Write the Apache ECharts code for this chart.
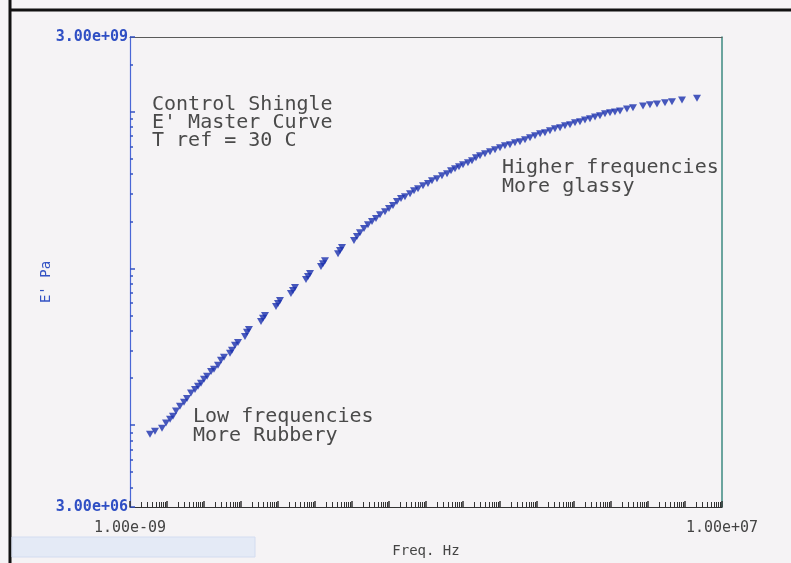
<!DOCTYPE html>
<html>
<head>
<meta charset="utf-8">
<title>Control Shingle E' Master Curve</title>
<script src="https://cdn.jsdelivr.net/npm/echarts@6/dist/echarts.min.js"></script>
<style>
    html, body { margin: 0; padding: 0; background: #f5f3f5; }
    #chart { width: 791px; height: 563px; }
</style>
</head>
<body>
<div id="chart"></div>
<script>
// values (Hz, Pa)
const freqHz = [
    3.47e-9, 4.74e-9, 7.33e-9, 9.40e-9, 1.21e-8, 1.45e-8, 1.75e-8, 2.24e-8, 2.88e-8, 3.47e-8,
    4.45e-8, 5.71e-8, 6.88e-8, 8.30e-8, 1.00e-7, 1.21e-7, 1.55e-7, 1.86e-7, 2.39e-7, 2.88e-7,
    3.47e-7, 5.04e-7, 5.71e-7, 6.88e-7, 8.30e-7, 1.28e-6, 1.45e-6, 1.64e-6, 3.47e-6, 3.93e-6,
    4.45e-6, 8.83e-6, 1.00e-5, 1.13e-5, 2.24e-5, 2.54e-5, 2.88e-5, 5.71e-5, 6.47e-5, 7.33e-5,
    1.45e-4, 1.64e-4, 1.86e-4, 4.19e-4, 4.74e-4, 5.37e-4, 1.13e-3, 1.36e-3, 1.64e-3, 2.11e-3,
    2.70e-3, 3.47e-3, 4.45e-3, 5.71e-3, 7.80e-3, 1.00e-2, 1.28e-2, 1.64e-2, 2.11e-2, 2.70e-2,
    3.70e-2, 4.74e-2, 6.08e-2, 8.30e-2, 0.113, 0.145, 0.198, 0.270, 0.370, 0.474,
    0.608, 0.780, 1.00, 1.36, 1.75, 2.24, 2.88, 3.93, 5.37, 7.33,
    10.0, 13.6, 18.6, 25.4, 34.7, 47.4, 64.7, 88.3, 121, 164,
    224, 306, 419, 571, 780, 1064, 1450, 1980, 2700, 3700,
    5040, 6880, 9400, 12800, 17500, 27000, 39300, 73300, 1.13e5, 1.75e5,
    2.88e5, 4.45e5, 8.30e5, 2.11e6
];
const storageModulus = [
    8.75e6, 9.15e6, 9.55e6, 1.03e7, 1.09e7, 1.14e7, 1.23e7, 1.32e7, 1.40e7, 1.48e7,
    1.60e7, 1.69e7, 1.77e7, 1.85e7, 1.96e7, 2.05e7, 2.20e7, 2.27e7, 2.41e7, 2.59e7,
    2.71e7, 2.87e7, 3.00e7, 3.23e7, 3.37e7, 3.68e7, 3.91e7, 4.08e7, 4.59e7, 4.80e7,
    5.01e7, 5.72e7, 5.97e7, 6.24e7, 6.92e7, 7.23e7, 7.56e7, 8.50e7, 8.88e7, 9.28e7,
    1.03e8, 1.07e8, 1.12e8, 1.24e8, 1.30e8, 1.36e8, 1.51e8, 1.60e8, 1.69e8, 1.80e8,
    1.90e8, 1.99e8, 2.08e8, 2.20e8, 2.30e8, 2.41e8, 2.52e8, 2.67e8, 2.79e8, 2.87e8,
    3.00e8, 3.13e8, 3.23e8, 3.37e8, 3.48e8, 3.63e8, 3.74e8, 3.91e8, 4.02e8, 4.20e8,
    4.33e8, 4.46e8, 4.59e8, 4.72e8, 4.87e8, 5.08e8, 5.24e8, 5.40e8, 5.56e8, 5.72e8,
    5.89e8, 6.07e8, 6.15e8, 6.34e8, 6.43e8, 6.62e8, 6.82e8, 7.02e8, 7.23e8, 7.34e8,
    7.56e8, 7.78e8, 7.89e8, 8.13e8, 8.25e8, 8.50e8, 8.63e8, 8.87e8, 9.01e8, 9.27e8,
    9.42e8, 9.70e8, 9.84e8, 9.98e8, 1.01e9, 1.04e9, 1.06e9, 1.09e9, 1.11e9, 1.12e9,
    1.14e9, 1.16e9, 1.19e9, 1.22e9
];

const xRange = [1e-9, 1e7];
const yRange = [3e6, 3e9];

const titleLines = ['Control Shingle', "E' Master Curve", 'T ref = 30 C'];
const lowNote = ['Low frequencies', 'More Rubbery'];
const highNote = ['Higher frequencies', 'More glassy'];

const mono = 'DejaVu Sans Mono';

// 3.00e+09 style labels, only at the ends of the axis
function expLabel(v) {
    const e = Math.floor(Math.log10(v) + 1e-9);
    const m = v / Math.pow(10, e);
    const a = Math.abs(e);
    return m.toFixed(2) + 'e' + (e < 0 ? '-' : '+') + (a < 10 ? '0' + a : a);
}
function edgeOnly(range) {
    return function (v) {
        const lv = Math.log10(v);
        if (Math.abs(lv - Math.log10(range[0])) < 1e-6 || Math.abs(lv - Math.log10(range[1])) < 1e-6) {
            return expLabel(v);
        }
        return '';
    };
}

const myChart = echarts.init(document.getElementById('chart'));

const option = {
    backgroundColor: '#f5f3f5',
    animation: false,
    grid: { left: 130, top: 37, right: 69, bottom: 54 },
    xAxis: [{
        type: 'log',
        logBase: 10,
        min: xRange[0],
        max: xRange[1],
        interval: 1,
        name: 'Freq. Hz',
        nameLocation: 'middle',
        nameGap: 37,
        nameTextStyle: { color: '#444', fontFamily: mono, fontSize: 14 },
        axisLine: { lineStyle: { color: '#333', width: 1 } },
        axisTick: { show: true, inside: true, length: 6, lineStyle: { color: '#333', width: 1.5 } },
        minorTick: { show: true, splitNumber: 9, length: 5, lineStyle: { color: '#333', width: 1 } },
        splitLine: { show: false },
        axisLabel: {
            showMinLabel: true, showMaxLabel: true,
            color: '#444', fontFamily: mono, fontSize: 15, margin: 14,
            formatter: edgeOnly(xRange)
        }
    }, {
        type: 'log',
        position: 'top',
        min: xRange[0],
        max: xRange[1],
        axisLine: { lineStyle: { color: '#5a5a5a', width: 1 } },
        axisTick: { show: false },
        axisLabel: { show: false },
        splitLine: { show: false }
    }],
    yAxis: [{
        type: 'log',
        logBase: 10,
        min: yRange[0],
        max: yRange[1],
        name: "E' Pa",
        nameLocation: 'middle',
        nameRotate: 90,
        nameGap: 77,
        nameMoveOverlap: false,
        nameTextStyle: { color: '#3453c4', fontFamily: mono, fontSize: 14, padding: [0, 0, 0, -20] },
        axisLine: { lineStyle: { color: '#4a67d6', width: 1.2 } },
        axisTick: { show: true, inside: true, length: 5, lineStyle: { color: '#3453c4', width: 1.5 } },
        minorTick: { show: true, splitNumber: 9, length: 3, lineStyle: { color: '#3453c4', width: 1.5 } },
        splitLine: { show: false },
        axisLabel: {
            showMinLabel: true, showMaxLabel: true,
            color: '#2f4fc4', fontFamily: mono, fontWeight: 'bold', fontSize: 15, margin: 2,
            formatter: edgeOnly(yRange)
        }
    }, {
        type: 'log',
        position: 'right',
        min: yRange[0],
        max: yRange[1],
        axisLine: { lineStyle: { color: '#3d8a80', width: 1.5 } },
        axisTick: { show: false },
        axisLabel: { show: false },
        splitLine: { show: false }
    }],
    graphic: [
        // scan frame
        { type: 'line', shape: { x1: 10, y1: 0, x2: 10, y2: 563 }, style: { stroke: '#111', lineWidth: 3 } },
        { type: 'line', shape: { x1: 9, y1: 10, x2: 791, y2: 10 }, style: { stroke: '#111', lineWidth: 3 } },
        { type: 'rect', shape: { x: 12, y: 537, width: 243, height: 20 }, style: { fill: '#e4eaf6', stroke: '#d3dcf0', lineWidth: 1 } },
        {
            type: 'text', left: 152, top: 95,
            style: { text: titleLines.join('\n'), font: '20px ' + mono, fill: '#4a4a4a', lineHeight: 18 }
        },
        {
            type: 'text', left: 193, top: 407,
            style: { text: lowNote.join('\n'), font: '20px ' + mono, fill: '#4a4a4a', lineHeight: 19 }
        },
        {
            type: 'text', left: 502, top: 158,
            style: { text: highNote.join('\n'), font: '20px ' + mono, fill: '#4a4a4a', lineHeight: 19 }
        }
    ],
    series: [{
        name: "E'",
        type: 'scatter',
        symbol: 'triangle',
        symbolRotate: 180,
        symbolSize: [8, 7],
        itemStyle: { color: '#1a2fae' },
        data: freqHz.map((f, i) => [f, storageModulus[i]])
    }]
};

myChart.setOption(option);
</script>
</body>
</html>
